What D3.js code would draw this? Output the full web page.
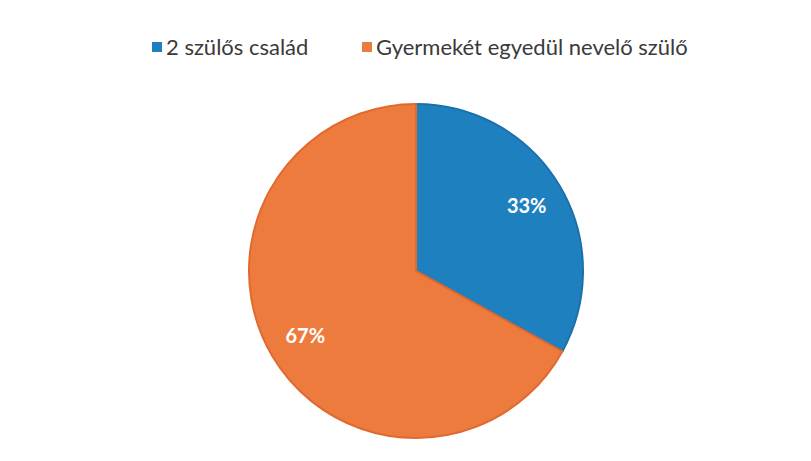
<!DOCTYPE html>
<html>
<head>
<meta charset="utf-8">
<script src="https://cdn.jsdelivr.net/npm/d3@7"></script>
<style>
  body { margin: 0; background: #fff; }
  svg { font-family: Lato, "Open Sans", sans-serif; }
</style>
</head>
<body>
<div id="chart"></div>
<script>
const categories = ["2 szülős család", "Gyermekét egyedül nevelő szülő"];
const values = [33, 67];
const colors = ["#1f80c0", "#ee7b3e"];
const strokes = ["#1a70aa", "#e0692e"];

const width = 811;
const height = 461;
const cx = 416;
const cy = 271;
const radius = 167;

const svg = d3
  .select("#chart")
  .append("svg")
  .attr("width", width)
  .attr("height", height);

svg.append("rect").attr("width", width).attr("height", height).attr("fill", "#fff");

// Pie
const pie = d3.pie().sort(null).value((d) => d);
const arcs = pie(values);
const arc = d3.arc().innerRadius(0).outerRadius(radius);
const labelArc = d3.arc().innerRadius(radius * 0.54).outerRadius(radius);

const g = svg.append("g").attr("transform", `translate(${cx}, ${cy})`);

g.selectAll("path")
  .data(arcs)
  .enter()
  .append("path")
  .attr("d", arc)
  .attr("fill", (d, i) => colors[i])
  .attr("stroke", (d, i) => strokes[i])
  .attr("stroke-width", 2);

g.selectAll(".label")
  .data(arcs)
  .enter()
  .append("text")
  .attr("class", "label")
  .attr("transform", (d) => `translate(${labelArc.centroid(d)})`)
  .attr("text-anchor", "middle")
  .attr("dy", "0.35em")
  .attr("fill", "#fff")
  .style("font-size", "20px")
  .style("font-weight", "bold")
  .text((d) => d.data + "%");

// Legend
const legendX = [152, 362];
const legend = svg
  .selectAll(".legend")
  .data(categories)
  .enter()
  .append("g")
  .attr("class", "legend")
  .attr("transform", (d, i) => `translate(${legendX[i]}, 47)`);

legend
  .append("rect")
  .attr("x", 0)
  .attr("y", -5)
  .attr("width", 10)
  .attr("height", 10)
  .attr("fill", (d, i) => colors[i]);

legend
  .append("text")
  .attr("x", 14)
  .attr("dy", "0.35em")
  .attr("fill", "#3a3a3a")
  .style("font-size", "22px")
  .text((d) => d);
</script>
</body>
</html>
